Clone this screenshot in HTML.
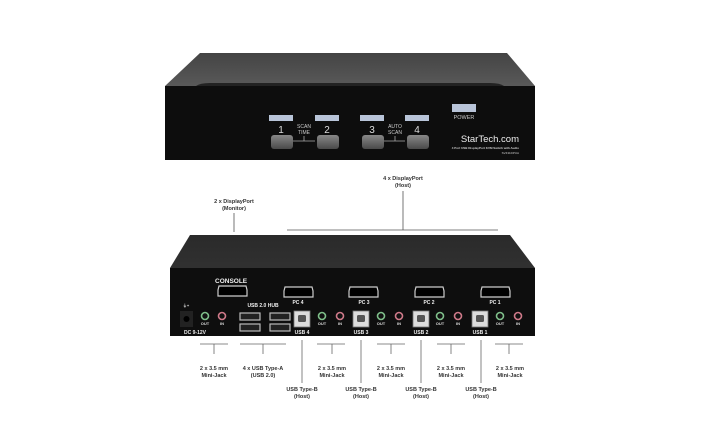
<!DOCTYPE html>
<html><head><meta charset="utf-8"><style>
html,body{margin:0;padding:0;background:#fff;width:712px;height:421px;overflow:hidden}
svg{display:block}
text{font-family:"Liberation Sans",sans-serif}
</style></head><body>
<svg width="712" height="421" viewBox="0 0 712 421" xmlns="http://www.w3.org/2000/svg">
<defs>
<linearGradient id="tg" x1="0" y1="0" x2="0" y2="1"><stop offset="0" stop-color="#444"/><stop offset="0.5" stop-color="#666"/><stop offset="1" stop-color="#3a3a3a"/></linearGradient>
<linearGradient id="tg2" x1="0" y1="0" x2="0" y2="1"><stop offset="0" stop-color="#2a2a2a"/><stop offset="1" stop-color="#3e3e3e"/></linearGradient>
<linearGradient id="btn" x1="0" y1="0" x2="0" y2="1"><stop offset="0" stop-color="#888"/><stop offset="1" stop-color="#4a4a4a"/></linearGradient>
</defs>
<!-- FRONT UNIT -->
<path d="M200 53 L507 53 L535 86 L535 160 L165 160 L165 86 Z" fill="url(#tg)"/>
<path d="M165 86 L535 86 L535 160 L165 160 Z" fill="#0d0d0d"/>
<path d="M196 86 Q200 83 210 83 L490 83 Q500 83 504 86 Z" fill="#222"/>
<rect x="269" y="115" width="24" height="6" fill="#b8c4d8"/>
<rect x="315" y="115" width="24" height="6" fill="#b8c4d8"/>
<rect x="360" y="115" width="24" height="6" fill="#b8c4d8"/>
<rect x="405" y="115" width="24" height="6" fill="#b8c4d8"/>
<rect x="452" y="104" width="24" height="8" fill="#b8c4d8"/>
<text x="464" y="119" font-size="5.5" fill="#ccc" text-anchor="middle">POWER</text>
<g fill="#ddd" font-size="10" text-anchor="middle"><text x="281" y="133">1</text><text x="327" y="133">2</text><text x="372" y="133">3</text><text x="417" y="133">4</text></g>
<g fill="#ccc" font-size="5" text-anchor="middle"><text x="304" y="128">SCAN</text><text x="304" y="134">TIME</text><text x="395" y="128">AUTO</text><text x="395" y="134">SCAN</text></g>
<path d="M293 141 H315 M304 141 V136 M384 141 H405 M395 141 V136" stroke="#aaa" stroke-width="0.8"/>
<rect x="271" y="135" width="22" height="14" rx="3" fill="url(#btn)"/>
<rect x="317" y="135" width="22" height="14" rx="3" fill="url(#btn)"/>
<rect x="362" y="135" width="22" height="14" rx="3" fill="url(#btn)"/>
<rect x="407" y="135" width="22" height="14" rx="3" fill="url(#btn)"/>
<text x="519" y="142" font-size="9.5" fill="#eee" text-anchor="end">StarTech.com</text>
<text x="519" y="149" font-size="3" fill="#ccc" text-anchor="end" font-weight="bold">4 Port USB DisplayPort KVM Switch with Audio</text>
<text x="519" y="154" font-size="3" fill="#ccc" text-anchor="end">SV431DPUA</text>
<!-- top labels -->
<g font-size="5.5" fill="#333" text-anchor="middle" font-weight="bold">
<text x="403" y="180">4 x DisplayPort</text><text x="403" y="187">(Host)</text>
<text x="234" y="203">2 x DisplayPort</text><text x="234" y="210">(Monitor)</text>
</g>
<path d="M403 191 V230 M287 230 H498 M234 213 V232" stroke="#555" stroke-width="0.8"/>
<!-- BACK UNIT -->
<path d="M190 235 L510 235 L535 268 L535 336 L170 336 L170 268 Z" fill="url(#tg2)"/>
<path d="M170 268 L535 268 L535 336 L170 336 Z" fill="#0e0e0e"/>
<text x="215" y="283" font-size="6.5" font-weight="bold" fill="#eee">CONSOLE</text>
<g fill="#000" stroke="#ccc" stroke-width="1.2">
<path d="M219 286 H246 L247 290 V296 H218 V290 Z"/>
<path d="M285 287 H312 L313 291 V297 H284 V291 Z"/>
<path d="M350 287 H377 L378 291 V297 H349 V291 Z"/>
<path d="M416 287 H443 L444 291 V297 H415 V291 Z"/>
<path d="M482 287 H509 L510 291 V297 H481 V291 Z"/>
</g>
<g fill="#eee" font-size="5" font-weight="bold" text-anchor="middle">
<text x="298" y="304">PC 4</text><text x="364" y="304">PC 3</text><text x="429" y="304">PC 2</text><text x="495" y="304">PC 1</text>
<text x="263" y="307">USB 2.0 HUB</text>
<text x="302" y="334">USB 4</text><text x="361" y="334">USB 3</text><text x="421" y="334">USB 2</text><text x="480" y="334">USB 1</text>
<text x="195" y="334">DC 9-12V</text>
</g>
<g fill="#ddd" font-size="4" font-weight="bold" text-anchor="middle">
<text x="205" y="325">OUT</text><text x="222" y="325">IN</text>
<text x="322" y="325">OUT</text><text x="340" y="325">IN</text>
<text x="381" y="325">OUT</text><text x="399" y="325">IN</text>
<text x="440" y="325">OUT</text><text x="458" y="325">IN</text>
<text x="500" y="325">OUT</text><text x="518" y="325">IN</text>
<text x="186" y="307">⏚+</text>
</g>
<rect x="180" y="311" width="13" height="16" fill="#222"/><circle cx="186.5" cy="319" r="3" fill="#000"/>
<g fill="#111" stroke-width="1.6">
<circle cx="205" cy="316" r="3.5" stroke="#7fbf8a"/><circle cx="222" cy="316" r="3.5" stroke="#d07a8a"/>
<circle cx="322" cy="316" r="3.5" stroke="#7fbf8a"/><circle cx="340" cy="316" r="3.5" stroke="#d07a8a"/>
<circle cx="381" cy="316" r="3.5" stroke="#7fbf8a"/><circle cx="399" cy="316" r="3.5" stroke="#d07a8a"/>
<circle cx="440" cy="316" r="3.5" stroke="#7fbf8a"/><circle cx="458" cy="316" r="3.5" stroke="#d07a8a"/>
<circle cx="500" cy="316" r="3.5" stroke="#7fbf8a"/><circle cx="518" cy="316" r="3.5" stroke="#d07a8a"/>
</g>
<g fill="#222" stroke="#bbb" stroke-width="1.2">
<rect x="240" y="313" width="20" height="7"/><rect x="270" y="313" width="20" height="7"/>
<rect x="240" y="324" width="20" height="7"/><rect x="270" y="324" width="20" height="7"/>
</g>
<g fill="#ddd" stroke="#777" stroke-width="0.8">
<rect x="294" y="311" width="16" height="16"/><rect x="353" y="311" width="16" height="16"/>
<rect x="413" y="311" width="16" height="16"/><rect x="472" y="311" width="16" height="16"/>
</g>
<g fill="#555"><rect x="298" y="315" width="8" height="7" rx="1.5"/><rect x="357" y="315" width="8" height="7" rx="1.5"/><rect x="417" y="315" width="8" height="7" rx="1.5"/><rect x="476" y="315" width="8" height="7" rx="1.5"/></g>
<!-- bottom callouts -->
<path d="M200 344 H228 M214 344 V354 M240 344 H286 M263 344 V354 M302 340 V383 M317 344 H345 M332 344 V354 M361 340 V383 M377 344 H405 M391 344 V354 M421 340 V383 M437 344 H465 M451 344 V354 M481 340 V383 M495 344 H523 M509 344 V354" stroke="#666" stroke-width="0.8"/>
<g font-size="5.5" fill="#333" text-anchor="middle" font-weight="bold">
<text x="214" y="370">2 x 3.5 mm</text><text x="214" y="377">Mini-Jack</text>
<text x="263" y="370">4 x USB Type-A</text><text x="263" y="377">(USB 2.0)</text>
<text x="332" y="370">2 x 3.5 mm</text><text x="332" y="377">Mini-Jack</text>
<text x="391" y="370">2 x 3.5 mm</text><text x="391" y="377">Mini-Jack</text>
<text x="451" y="370">2 x 3.5 mm</text><text x="451" y="377">Mini-Jack</text>
<text x="510" y="370">2 x 3.5 mm</text><text x="510" y="377">Mini-Jack</text>
<text x="302" y="391">USB Type-B</text><text x="302" y="398">(Host)</text>
<text x="361" y="391">USB Type-B</text><text x="361" y="398">(Host)</text>
<text x="421" y="391">USB Type-B</text><text x="421" y="398">(Host)</text>
<text x="481" y="391">USB Type-B</text><text x="481" y="398">(Host)</text>
</g>
</svg>
</body></html>
